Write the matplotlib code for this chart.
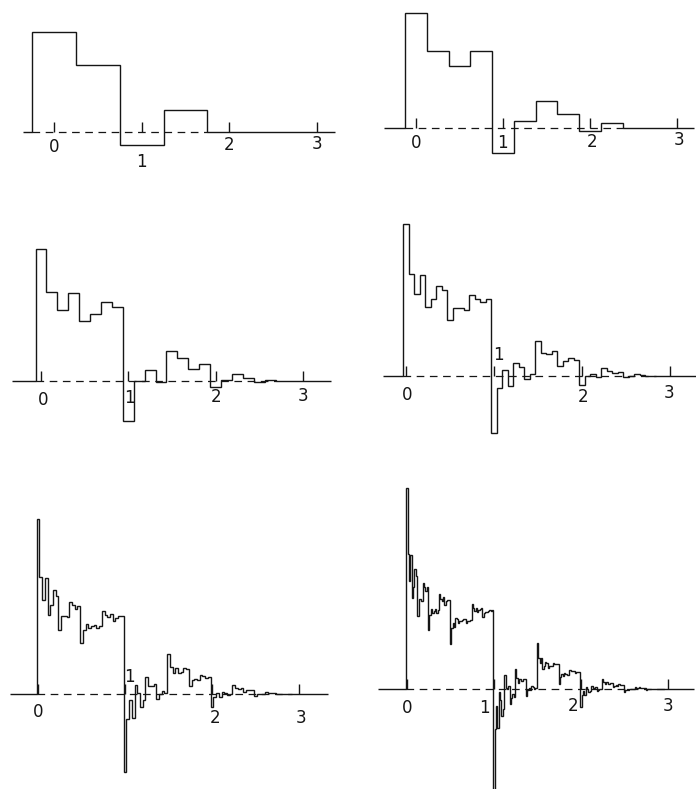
import numpy as np
import matplotlib
matplotlib.use("Agg")
import matplotlib.pyplot as plt

W, H = 696, 789

# step heights (same vertical units in every panel)
phi1 = [100, 67, -13, 22]
phi2 = [115, 77, 62, 76.6, -25, 6.7, 27.2, 13.7, -3.3, 5.5]
phi3 = [132.3, 88.6, 71.3, 88.0, 59.8, 67.0, 78.8, 74.5, -40.2, -0.1, 11.5,
        -1.1, 30.3, 22.7, 11.7, 17.4, -5.9, 0.9, 6.8, 3.4, -0.8, 1.4]
phi4 = [152.1, 101.9, 82.1, 101.3, 68.7, 77.1, 90.5, 85.6, 55.6, 68.0, 68.1,
        66.5, 80.6, 77.4, 73.9, 77.1, -57.4, -12.4, 5.9, -10.1, 13.2, 8.8,
        -3.0, 2.0, 35.0, 23.0, 21.6, 25.1, 10.1, 14.7, 18.2, 16.3, -9.4, -0.2,
        1.9, -0.8, 7.7, 5.5, 2.9, 4.3, -1.4, 0.2, 1.7, 0.9, -0.2, 0.35]
phi5 = [174.9, 117.1, 94.4, 116.5, 79.1, 88.7, 104.2, 98.5, 63.8, 78.2, 78.4, 76.6, 92.5, 89.0, 84.8, 88.5,
        51.1, 64.2, 69.9, 66.3, 68.1, 69.4, 66.3, 68.2, 82.7, 78.7, 76.9, 79.8, 73.4, 76.3, 77.6, 77.9,
        -77.6, -24.9, -5.7, -23.9, 8.7, 1.4, -12.5, -6.3, 16.7, 7.7, 8.1, 10.1, -4.8, -0.1, 2.75, 0.8,
        40.0, 27.5, 21.2, 26.5, 21.4, 22.4, 25.6, 24.7, 7.8, 14.1, 15.4, 13.8, 18.7, 17.7, 16.0, 17.1,
        -13.2, -3.1, 1.2, -2.5, 2.2, 1.4, -1.2, -0.1, 9.0, 5.7, 5.1, 6.1, 2.5, 3.6, 4.5, 4.0,
        -2.2, 0.0, 0.4, -0.2, 1.9, 1.4, 0.8, 1.1, -0.3, 0.1, 0.4, 0.2, -0.05, 0.09]
phi6 = [201.1, 134.7, 108.4, 133.9, 91.0, 102.0, 119.8, 113.3, 73.5, 90.0, 90.1, 88.1, 106.5, 102.4, 97.7, 101.9,
        58.6, 73.7, 80.3, 76.2, 78.5, 79.9, 76.3, 78.6, 94.9, 90.4, 88.5, 91.6, 84.2, 87.6, 89.1, 89.3,
        45.5, 61.4, 66.1, 62.2, 70.8, 69.9, 65.7, 68.5, 68.4, 69.0, 69.6, 70.4, 65.8, 68.4, 68.5, 69.1,
        84.9, 80.7, 78.1, 81.3, 76.6, 78.9, 80.3, 80.6, 72.4, 76.5, 76.7, 77.1, 77.8, 78.9, 78.0, 79.4,
        -100.9, -40.3, -17.0, -38.6, -2.9, -10.6, -26.6, -19.8, 13.6, 0.7, 0.3, 3.3, -14.6, -9.3, -5.3, -8.0,
        20.1, 11.3, 6.4, 10.1, 8.1, 8.1, 10.4, 9.8, -7.0, -1.2, 0.6, -1.3, 3.2, 2.1, 0.5, 1.3,
        45.9, 31.0, 25.6, 31.2, 20.3, 23.2, 27.3, 25.7, 20.6, 23.1, 22.6, 22.6, 26.0, 25.3, 24.6, 25.4,
        5.3, 12.2, 15.0, 12.8, 15.6, 15.4, 13.6, 14.5, 19.4, 17.9, 17.6, 18.3, 15.7, 16.7, 17.3, 17.2,
        -17.8, -5.9, -1.6, -5.7, 1.9, 0.1, -3.1, -1.6, 2.9, 1.1, 1.3, 1.6, -1.6, -0.6, 0.1, -0.4,
        10.4, 6.9, 5.2, 6.6, 5.0, 5.3, 6.2, 6.0, 2.0, 3.4, 3.7, 3.4, 4.7, 4.4, 3.9, 4.2,
        -3.1, -0.7, 0.3, -0.55, 0.5, 0.3, -0.3, -0.05, 2.2, 1.4, 1.3, 1.6, 0.7, 0.95, 1.1, 1.0,
        -0.5, 0.05, 0.16, 0.0, 0.45, 0.33, 0.17, 0.25, -0.09, 0.01, 0.11, 0.06, -0.01, 0.02]

step_widths = [1/2, 1/4, 1/8, 1/16, 1/32, 1/64]
tick_pos = [0, 1, 2, 3]
tick_text = ["0", "1", "2", "3"]

# where each panel sits on the page (origin in pixels, pixels per unit, axis span)
layout = [
    dict(x0=54, y0=132, unit=87.7, span=(-0.35, 3.2),
         labels=[(0, -15), (1, -30), (2, -13), (3, -12)]),
    dict(x0=416, y0=128, unit=87.0, span=(-0.37, 3.2),
         labels=[(0, -15), (0.99, -15), (2.02, -14), (3.02, -12)]),
    dict(x0=41, y0=381, unit=87.3, span=(-0.33, 3.32),
         labels=[(0.02, -19), (1.01, -17), (2.0, -16), (3.0, -15)]),
    dict(x0=406, y0=376, unit=88.0, span=(-0.26, 3.3),
         labels=[(0.01, -19), (1.05, 21), (2.01, -21), (2.99, -17)]),
    dict(x0=38, y0=694, unit=87.0, span=(-0.32, 3.33),
         labels=[(0.0, -18), (1.05, 17), (2.03, -24), (3.02, -24)]),
    dict(x0=407, y0=689, unit=87.0, span=(-0.33, 3.3),
         labels=[(0.0, -19), (0.89, -19), (1.91, -17), (3.0, -17)]),
]

plt.rcParams['lines.scale_dashes'] = False
ink = '#151515'

fig = plt.figure(figsize=(W / 100, H / 100), dpi=100)

xlim = (-0.5, 3.5)
ylim = (-118, 218)
for vals, w, lay in zip([phi1, phi2, phi3, phi4, phi5, phi6], step_widths, layout):
    u = lay["unit"]
    left = lay["x0"] + xlim[0] * u
    bottom = H - (lay["y0"] - ylim[0])
    ax = fig.add_axes([left / W, bottom / H, (xlim[1] - xlim[0]) * u / W, (ylim[1] - ylim[0]) / H])
    ax.set_xlim(xlim)
    ax.set_ylim(ylim)
    ax.axis('off')

    vals = np.asarray(vals, dtype=float)
    edges = (np.arange(len(vals) + 1) - 0.5) * w
    lo, hi = lay["span"]

    # dashed zero line under the function, solid function outline on top
    ax.plot([edges[0], edges[-1]], [0, 0], color=ink, lw=0.9, ls=(0, (5.5, 4)), zorder=1)
    ax.stairs(np.r_[0, vals, 0], np.r_[lo, edges, hi], baseline=None,
              color=ink, lw=1.0, zorder=2)
    ax.vlines(tick_pos, 0, 10, color=ink, lw=1.0, zorder=2)
    for t, (tx, ty) in zip(tick_text, lay["labels"]):
        ax.text(tx, ty, t, ha='center', va='center', fontsize=12, color=ink)

fig.savefig("out.png", dpi=100)
